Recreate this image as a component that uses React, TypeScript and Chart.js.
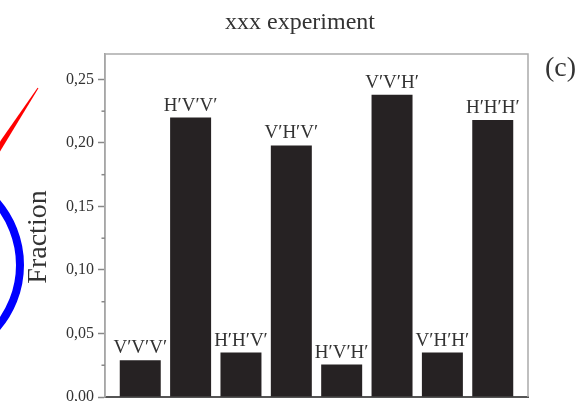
import React, { useEffect, useRef } from "react";
import { Chart, registerables } from "chart.js";

Chart.register(...registerables);

const categories = ["V′V′V′", "H′V′V′", "H′H′V′", "V′H′V′", "H′V′H′", "V′V′H′", "V′H′H′", "H′H′H′"];
const fractions = [0.029, 0.22, 0.035, 0.198, 0.0255, 0.238, 0.035, 0.218];
const yTicks = [0, 0.05, 0.1, 0.15, 0.2, 0.25];
const minorTicks = [0.025, 0.075, 0.125, 0.175, 0.225];
const titleText = "xxx experiment";
const yTitle = "Fraction";
const panelLabel = "(c)";

const SERIF = "'Liberation Serif', 'Times New Roman', serif";

const decor = {
  id: "decor",
  beforeDraw(chart: any) {
    const { ctx, width, height } = chart;
    ctx.save();
    ctx.fillStyle = "#ffffff";
    ctx.fillRect(0, 0, width, height);
    ctx.restore();
  },
  afterDatasetsDraw(chart: any) {
    const ctx = chart.ctx as CanvasRenderingContext2D;
    const { left, right, top, bottom } = chart.chartArea;
    ctx.save();
    // frame
    ctx.strokeStyle = "#aaaaaa";
    ctx.lineWidth = 1.5;
    ctx.beginPath();
    ctx.moveTo(left, bottom);
    ctx.lineTo(left, top);
    ctx.lineTo(right, top);
    ctx.lineTo(right, bottom);
    ctx.stroke();
    // minor ticks
    const ys = chart.scales.y;
    ctx.strokeStyle = "#888888";
    ctx.lineWidth = 1.5;
    minorTicks.forEach((v) => {
      const py = ys.getPixelForValue(v);
      ctx.beginPath();
      ctx.moveTo(left - 3.5, py);
      ctx.lineTo(left, py);
      ctx.stroke();
    });
    // bar labels
    const meta = chart.getDatasetMeta(0);
    ctx.fillStyle = "#333333";
    ctx.font = `19px ${SERIF}`;
    ctx.textAlign = "center";
    ctx.textBaseline = "alphabetic";
    meta.data.forEach((bar: any, i: number) => {
      ctx.fillText(categories[i], bar.x, bar.y - 7);
    });
    // title
    ctx.font = `24px ${SERIF}`;
    ctx.fillText(titleText, 300, 29);
    // y title
    ctx.save();
    ctx.translate(38.5, 237);
    ctx.rotate(-Math.PI / 2);
    ctx.font = `28px ${SERIF}`;
    ctx.textBaseline = "middle";
    ctx.fillText(yTitle, 0, 0);
    ctx.restore();
    // panel label
    ctx.textAlign = "left";
    ctx.font = `28px ${SERIF}`;
    ctx.fillText(panelLabel, 545, 76);
    // red stroke
    const tx = 38, ty = 88, bx = -5, by = 154;
    const dx = bx - tx, dy = by - ty;
    const len = Math.hypot(dx, dy);
    const px = dy / len, py2 = -dx / len;
    ctx.fillStyle = "#ff0000";
    ctx.beginPath();
    ctx.moveTo(tx + px * 0.5, ty + py2 * 0.5);
    ctx.lineTo(bx + px * 3, by + py2 * 3);
    ctx.lineTo(bx - px * 3, by - py2 * 3);
    ctx.lineTo(tx - px * 0.5, ty - py2 * 0.5);
    ctx.closePath();
    ctx.fill();
    // blue arc
    ctx.strokeStyle = "#0000ff";
    ctx.lineWidth = 8;
    ctx.beginPath();
    ctx.arc(-76, 265, 96, -Math.PI / 2, Math.PI / 2);
    ctx.stroke();
    ctx.restore();
  },
};

export default function App() {
  const ref = useRef<HTMLCanvasElement | null>(null);
  useEffect(() => {
    if (!ref.current) return;
    const chart = new Chart(ref.current, {
      type: "bar",
      data: {
        datasets: [
          {
            data: categories.map((c, i) => ({ x: i, y: fractions[i] })),
            backgroundColor: "#262223",
            borderWidth: 0,
            barPercentage: 0.814,
            categoryPercentage: 1,
          },
        ],
      },
      options: {
        animation: false,
        responsive: false,
        devicePixelRatio: 1,
        layout: { padding: { left: 0, right: 52, top: 54, bottom: 23 } },
        plugins: { legend: { display: false }, tooltip: { enabled: false }, title: { display: false } },
        scales: {
          x: {
            type: "linear",
            min: -0.7,
            max: 7.7,
            offset: false,
            afterBuildTicks: (s: any) => {
              s.ticks = categories.map((c, i) => ({ value: i }));
            },
            afterFit: (s: any) => {
              s.height = 0;
            },
            ticks: { display: false },
            grid: { display: false },
            border: { display: true, color: "#555555", width: 2 },
          },
          y: {
            min: 0,
            max: 0.27,
            afterBuildTicks: (s: any) => {
              s.ticks = yTicks.map((v) => ({ value: v }));
            },
            afterFit: (s: any) => {
              s.width = 105;
            },
            grid: {
              drawOnChartArea: false,
              drawTicks: true,
              tickLength: 7,
              color: "#888888",
              tickColor: "#888888",
              tickWidth: 1.5,
            },
            border: { display: true, color: "#999999", width: 1.5 },
            ticks: {
              padding: 4,
              color: "#333333",
              font: { family: SERIF, size: 16 },
              callback: (v: any) => Number(v).toFixed(2).replace(".", ","),
            },
          },
        },
      },
      plugins: [decor],
    } as any);
    return () => chart.destroy();
  }, []);
  return (
    <canvas
      ref={ref}
      width={580}
      height={420}
      style={{ position: "absolute", left: 0, top: 0, display: "block" }}
    />
  );
}
